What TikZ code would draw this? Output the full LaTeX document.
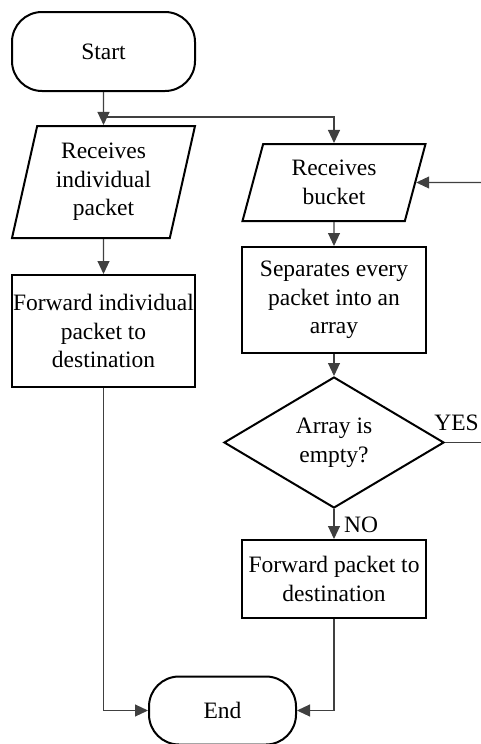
\documentclass[tikz,border=0pt]{standalone}
\usepackage{fontspec}
\setmainfont{Liberation Serif}
\usetikzlibrary{shapes.geometric,arrows.meta}
\begin{document}
\begin{tikzpicture}[x=1pt,y=-1pt,
  every node/.style={font=\fontsize{23.5}{28.5}\selectfont, inner sep=0pt, align=center},
  shp/.style={draw=black, line width=2pt, fill=white},
  term/.style={shp, rectangle, rounded corners=30pt},
  io/.style={shp, trapezium, trapezium stretches body},
  proc/.style={shp, rectangle},
  dec/.style={shp, diamond},
  conn/.style={draw=black!75, line width=1.1pt},
  arr/.style={conn, -{Triangle[length=13pt,width=12pt]}},
  lbl/.style={font=\fontsize{23.5}{28.5}\selectfont}
]
\useasboundingbox (0,0) rectangle (481,744);

\node[term, minimum width=183pt, minimum height=79pt] (start) at (103.5,51.5) {Start};
\node[io, trapezium left angle=72, trapezium right angle=108,
      minimum width=183pt, minimum height=112pt] (p1) at (103.5,182) {Receives\\individual\\packet};
\node[proc, minimum width=183pt, minimum height=112pt] (f1) at (103.5,331) {Forward individual\\packet to\\destination};

\node[io, trapezium left angle=65, trapezium right angle=115,
      minimum width=183pt, minimum height=77pt] (p2) at (334,182.5) {Receives\\bucket};
\node[proc, minimum width=184pt, minimum height=106pt] (sep) at (334,300) {Separates every\\packet into an\\array};
\node[dec, aspect=1.68, minimum width=220pt, minimum height=131pt] (dc) at (334,442.5) {Array is\\empty?};
\node[proc, minimum width=184pt, minimum height=78pt] (f2) at (334,579) {Forward packet to\\destination};
\node[term, minimum width=147pt, minimum height=68pt] (end) at (222.5,710.5) {End};

\coordinate (br) at (103.5,117);
\coordinate (inR) at (481,182.5);
\coordinate (yesR) at (481,442.5);

\draw[arr] (start.south) -- (p1.north);
\draw[arr] (br) -| (p2.north);
\draw[arr] (p1.south) -- (f1.north);
\draw[arr] (inR) -- (p2.east);
\draw[arr] (p2.south) -- (sep.north);
\draw[arr] (sep.south) -- (dc.north);
\draw[arr] (dc.south) -- (f2.north);
\draw[conn] (dc.east) -- (yesR);
\draw[arr] (f1.south) |- (end.west);
\draw[arr] (f2.south) |- (end.east);

\node[lbl, anchor=base] (yes) at (456.5,430) {YES};
\node[lbl, anchor=base west] (no) at (344,532) {NO};
\end{tikzpicture}
\end{document}
